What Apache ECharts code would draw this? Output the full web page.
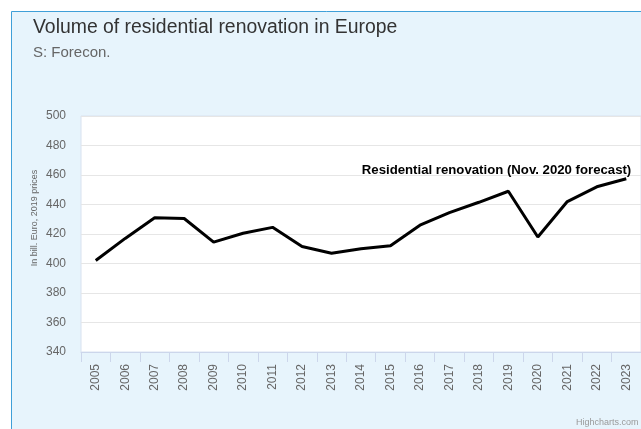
<!DOCTYPE html>
<html><head><meta charset="utf-8">
<script src="https://cdn.jsdelivr.net/npm/echarts@6/dist/echarts.min.js"></script>
<style>html,body{margin:0;padding:0;background:#fff}#c{width:641px;height:429px}</style>
</head><body><div id="c"></div>
<script>
const categories = ['2005','2006','2007','2008','2009','2010','2011','2012','2013','2014','2015','2016','2017','2018','2019','2020','2021','2022','2023'];
const renovation = [402, 417, 431, 430.5, 414.5, 420.5, 424.5, 411.5, 407, 410, 412, 426, 434.5, 441.5, 449, 418, 442, 452, 457.5];
const yTicks = {min: 340, max: 500, step: 20};
const seriesName = 'Residential renovation (Nov. 2020 forecast)';

const chart = echarts.init(document.getElementById('c'), null, {renderer: 'canvas'});
const font = 'Liberation Sans, Arial, Helvetica, sans-serif';
const lastIdx = renovation.length - 1;
chart.setOption({
  animation: false,
  backgroundColor: '#ffffff',
  textStyle: {fontFamily: font},
  graphic: [
    {type: 'rect', z: -10, silent: true, shape: {x: 11.5, y: 11.5, width: 700, height: 500},
     style: {fill: '#e7f4fc', stroke: '#3f9fd8', lineWidth: 1}},
    {type: 'text', left: 33, top: 18, style: {text: 'Volume of residential renovation in Europe', font: '19.4px ' + font, fill: '#333333'}},
    {type: 'text', left: 33, top: 45, style: {text: 'S: Forecon.', font: '15px ' + font, fill: '#666666'}},
    {type: 'text', x: 35, y: 218, rotation: Math.PI / 2, style: {text: 'In bill. Euro, 2019 prices', font: '9px ' + font, fill: '#666666', align: 'center', verticalAlign: 'middle'}},
    {type: 'text', x: 576, y: 418, style: {text: 'Highcharts.com', font: '9px ' + font, fill: '#999999'}}
  ],
  grid: {left: 81, right: 0, top: 116, bottom: 77, show: true, backgroundColor: '#ffffff', borderColor: '#d8e2f0', borderWidth: 1},
  xAxis: {
    type: 'category', data: categories, boundaryGap: true,
    axisLine: {lineStyle: {color: '#ccd6eb'}},
    axisTick: {show: true, length: 10, lineStyle: {color: '#ccd6eb'}},
    axisLabel: {rotate: 90, color: '#666666', fontSize: 12, margin: 12, fontFamily: font}
  },
  yAxis: {
    type: 'value', min: yTicks.min, max: yTicks.max, interval: yTicks.step,
    axisLine: {show: false}, axisTick: {show: false},
    axisLabel: {color: '#666666', fontSize: 12, margin: 15, fontFamily: font},
    splitLine: {lineStyle: {color: '#e6e6e6'}}
  },
  series: [{
    name: seriesName, type: 'line', showSymbol: false, symbol: 'none',
    lineStyle: {color: '#000000', width: 3},
    data: renovation,
    markPoint: {
      symbol: 'circle', symbolSize: 0, silent: true,
      data: [{coord: [lastIdx, renovation[lastIdx]], value: renovation[lastIdx]}],
      label: {show: true, position: 'top', align: 'right', distance: 2, offset: [5, 0],
              formatter: seriesName, color: '#000000', fontWeight: 'bold', fontSize: 13.2, fontFamily: font}
    }
  }]
});
</script></body></html>
